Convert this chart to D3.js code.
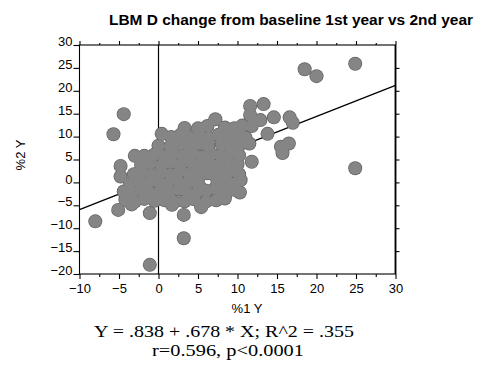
<!DOCTYPE html>
<html>
<head>
<meta charset="utf-8">
<script src="https://cdn.jsdelivr.net/npm/d3@7"></script>
<style>
  html, body { margin: 0; padding: 0; background: #fff; }
  svg { display: block; }
</style>
</head>
<body>
<svg id="chart" width="477" height="365"></svg>
<script>
// Percent change in lean body mass (BMD) from baseline: year 1 (x) vs year 2 (y)
const pctYear1 = [
  18.5, 20.0, 24.9, 24.9, 13.3, 11.6, 11.6, 16.6, 17.0, 14.6, 12.9, 13.8, 11.8, 16.5,
  15.5, 15.7, 11.8, 9.4, 11.5, 7.2, -4.4, -5.7, 0.4, 3.3, -4.8, -4.8, -3.0, -1.8,
  -8.0, -5.1, -1.1, -1.1, 3.2, 3.2, 5.4, 1.7, -3.4, 10.3, 10.2, 5.0, 9.6, 0.0,
  -4.2, -3.0, -1.8, -0.5, 0.8, 2.0, 3.3, 4.5, 6.0, 7.3, 8.4,
  -4.4, -3.3, -2.2, -1.0, 0.2, 1.4, 2.6, 3.8, 5.0, 6.1, 7.4, 8.6, 9.6,
  -3.6, -2.4, -1.3, 0.0, 1.1, 2.3, 3.4, 4.4, 5.1, 7.4, 7.3, 8.5, 9.6, 10.4, 5.2,
  -3.1, -2.0, -0.9, 0.3, 1.5, 2.7, 3.9, 5.0, 6.2, 7.4, 8.6, 9.5,
  -2.2, -1.0, 0.4, 1.6, 2.8, 4.0, 5.2, 6.4, 7.6, 8.8, 10.0,
  -0.5, 0.7, 1.9, 3.1, 4.3, 5.5, 6.7, 7.9, 9.1, 10.2,
  1.5, 2.7, 3.9, 5.1, 6.3, 8.0, 9.2, 10.3,
  1.6, 2.8, 4.0, 5.2, 6.4, 7.6, 8.8, 10.0, 11.0,
  6.2, 8.4, 10.6
];
const pctYear2 = [
  24.7, 23.2, 25.9, 3.1, 17.1, 16.7, 14.7, 14.2, 13.0, 14.2, 13.6, 10.6, 12.3, 8.5,
  7.8, 6.4, 4.5, 11.4, 8.5, 13.8, 14.9, 10.5, 10.6, 11.9, 3.6, 1.3, 5.8, 5.8,
  -8.5, -6.0, -6.7, -18.0, -12.2, -7.1, -5.4, -4.9, -4.8, -2.2, 1.8, 11.8, 11.8, 8.0,
  -3.8, -4.2, -3.6, -4.0, -3.9, -4.3, -4.1, -3.7, -4.2, -3.9, -3.5,
  -2.0, -2.3, -1.6, -2.4, -1.8, -2.2, -1.5, -2.5, -1.9, -1.8, -1.5, -2.2, -1.6,
  -0.3, 0.4, -0.2, 0.3, -0.4, 0.5, -0.2, 0.4, 1.0, -0.6, 1.1, 0.3, -0.3, 0.5, -0.9,
  1.8, 2.4, 1.6, 2.2, 1.7, 2.5, 1.9, 2.6, 2.0, 2.6, 1.8, 2.6,
  3.8, 4.3, 3.7, 4.4, 3.9, 4.5, 3.8, 4.3, 3.7, 4.4, 3.9,
  6.1, 5.7, 6.4, 5.8, 6.3, 5.6, 6.2, 5.9, 6.4, 5.9,
  7.8, 8.4, 7.9, 8.5, 8.0, 8.3, 7.9, 8.3,
  9.9, 10.4, 9.8, 10.3, 9.7, 10.4, 9.9, 10.2, 9.8,
  12.3, 12.0, 12.4
];

const xTicks = [-10, -5, 0, 5, 10, 15, 20, 25, 30];
const xMinorTicks = [-7.5, -2.5, 2.5, 7.5, 12.5, 17.5, 22.5, 27.5];
const yTicks = [-20, -15, -10, -5, 0, 5, 10, 15, 20, 25, 30];

// least-squares fit reported under the chart
const fitIntercept = 0.838;
const fitSlope = 0.678;

const titleText = "LBM D change from baseline 1st year vs 2nd year";
const xLabel = "%1 Y";
const yLabel = "%2 Y";
const statLines = ["Y = .838 + .678 * X; R^2 = .355", "r=0.596, p<0.0001"];

const svg = d3.select("#chart");
const box = { left: 79.5, right: 395.5, top: 45, bottom: 274 };

const x = d3.scaleLinear().domain([-10, 30]).range([box.left, box.right]);
const y = d3.scaleLinear().domain([-20, 30]).range([box.bottom, box.top]);

const sans = "'Liberation Sans', Arial, Helvetica, sans-serif";
const serif = "'Liberation Serif', 'Times New Roman', serif";

// title
svg.append("text")
  .attr("x", 291).attr("y", 25)
  .attr("text-anchor", "middle")
  .attr("font-family", sans).attr("font-weight", "bold").attr("font-size", 14)
  .attr("textLength", 364).attr("lengthAdjust", "spacingAndGlyphs")
  .text(titleText);

// reference line at x = 0
svg.append("line")
  .attr("x1", x(0)).attr("x2", x(0))
  .attr("y1", y(30)).attr("y2", y(-20))
  .attr("stroke", "#000").attr("stroke-width", 1.2);

// fitted regression line
const fitLine = d3.line().x(d => x(d)).y(d => y(fitIntercept + fitSlope * d));
svg.append("path")
  .datum([-10, 30])
  .attr("d", fitLine)
  .attr("fill", "none").attr("stroke", "#000").attr("stroke-width", 1.3);

// data points: a darker disc underneath each marker gives the merged
// cloud a single outer rim, then the lighter fill is laid on top
const pts = pctYear1.map((v, i) => ({ x: v, y: pctYear2[i] }));
svg.append("g")
  .selectAll("circle")
  .data(pts)
  .join("circle")
  .attr("cx", d => x(d.x))
  .attr("cy", d => y(d.y))
  .attr("r", 7)
  .attr("fill", "#626262");
svg.append("g")
  .selectAll("circle")
  .data(pts)
  .join("circle")
  .attr("cx", d => x(d.x))
  .attr("cy", d => y(d.y))
  .attr("r", 6.3)
  .attr("fill", "#858585");

function styleAxis(g) {
  g.select(".domain").remove();
  g.selectAll(".tick line").attr("stroke", "#000").attr("stroke-width", 1.1);
  g.selectAll("text").attr("fill", "#000").attr("font-family", sans).attr("font-size", 13);
}

// bottom axis
svg.append("g")
  .attr("transform", `translate(0,${box.bottom})`)
  .call(d3.axisBottom(x).tickValues(xTicks).tickSize(5).tickPadding(5))
  .call(styleAxis);
svg.append("g")
  .attr("transform", `translate(0,${box.bottom})`)
  .call(d3.axisBottom(x).tickValues(xMinorTicks).tickSize(3).tickFormat(""))
  .call(styleAxis);

// top axis (ticks only)
svg.append("g")
  .attr("transform", `translate(0,${box.top})`)
  .call(d3.axisTop(x).tickValues(xTicks).tickSize(4).tickFormat(""))
  .call(styleAxis);
svg.append("g")
  .attr("transform", `translate(0,${box.top})`)
  .call(d3.axisTop(x).tickValues(xMinorTicks).tickSize(2).tickFormat(""))
  .call(styleAxis);

// left axis, labels sit on their tick
const leftAxis = svg.append("g")
  .attr("transform", `translate(${box.left},0)`)
  .call(d3.axisLeft(y).tickValues(yTicks).tickSize(6).tickPadding(1))
  .call(styleAxis);
leftAxis.selectAll("text").attr("dy", "0.05em");

// right axis (ticks only)
svg.append("g")
  .attr("transform", `translate(${box.right},0)`)
  .call(d3.axisRight(y).tickValues(yTicks.slice(1, -1)).tickSize(4).tickFormat(""))
  .call(styleAxis);

// box outline
svg.append("rect")
  .attr("x", box.left).attr("y", box.top)
  .attr("width", box.right - box.left).attr("height", box.bottom - box.top)
  .attr("fill", "none").attr("stroke", "#000").attr("stroke-width", 1.1);
svg.append("line")
  .attr("x1", box.right).attr("x2", box.right)
  .attr("y1", box.top).attr("y2", box.bottom)
  .attr("stroke", "#000").attr("stroke-width", 1.8);

// axis titles
svg.append("text")
  .attr("x", 247).attr("y", 313)
  .attr("text-anchor", "middle")
  .attr("font-family", sans).attr("font-size", 13)
  .text(xLabel);
svg.append("text")
  .attr("transform", "translate(25,155) rotate(-90)")
  .attr("text-anchor", "middle")
  .attr("font-family", sans).attr("font-size", 13)
  .text(yLabel);

// regression statistics
svg.append("text")
  .attr("x", 224).attr("y", 337)
  .attr("text-anchor", "middle")
  .attr("font-family", serif).attr("font-size", 17.5)
  .attr("textLength", 260).attr("lengthAdjust", "spacingAndGlyphs")
  .text(statLines[0]);
svg.append("text")
  .attr("x", 228).attr("y", 356)
  .attr("text-anchor", "middle")
  .attr("font-family", serif).attr("font-size", 17.5)
  .attr("textLength", 152).attr("lengthAdjust", "spacingAndGlyphs")
  .text(statLines[1]);
</script>
</body>
</html>
